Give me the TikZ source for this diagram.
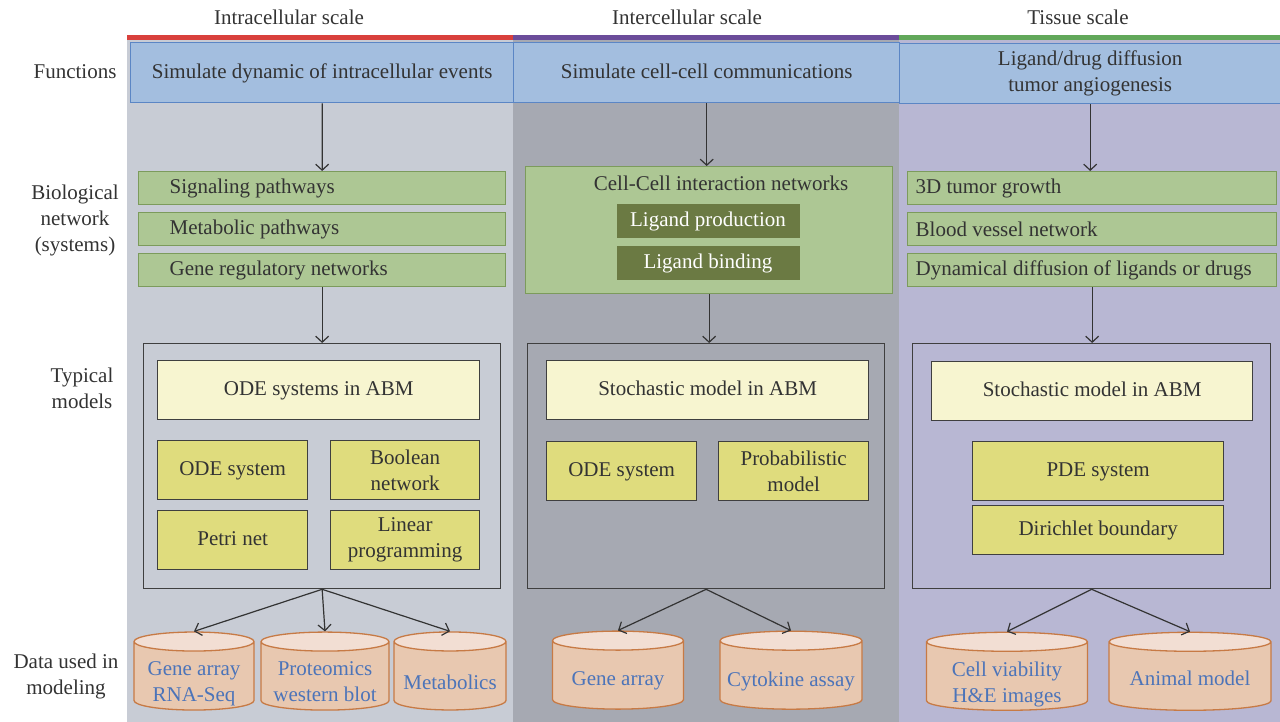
\documentclass[tikz,border=0pt]{standalone}
\usepackage{fontspec}
\setmainfont{Liberation Serif}
\usetikzlibrary{shapes.geometric, arrows.meta, positioning}
\definecolor{funcblue}{HTML}{A3BEDF}
\definecolor{funcedge}{HTML}{5B86C5}
\definecolor{bgintra}{HTML}{C8CCD5}
\definecolor{bginter}{HTML}{A6A9B2}
\definecolor{bgtissue}{HTML}{B8B7D3}
\definecolor{barred}{HTML}{D9403C}
\definecolor{barpurple}{HTML}{6B4C9A}
\definecolor{bargreen}{HTML}{62A85A}
\definecolor{netgreen}{HTML}{ADC794}
\definecolor{netedge}{HTML}{7C9B5C}
\definecolor{liggreen}{HTML}{6B7A43}
\definecolor{abmfill}{HTML}{F7F5D0}
\definecolor{modfill}{HTML}{DFDC7D}
\definecolor{boxedge}{HTML}{3F3F3F}
\definecolor{cylbody}{HTML}{E8C8B0}
\definecolor{cyltop}{HTML}{F2DED3}
\definecolor{cyledge}{HTML}{C77A45}
\definecolor{cyltext}{HTML}{4C74B9}
\definecolor{txtgray}{HTML}{333333}

\begin{document}
\begin{tikzpicture}
[x=1pt, y=-1pt,
every node/.style={font=\fontsize{21}{26}\selectfont, text=txtgray},
label/.style={align=center},
oneline/.style={text height=14pt, text depth=3pt},
func/.style={rectangle, draw=funcedge, line width=1.4pt, fill=funcblue, minimum height=60, anchor=north west, align=center},
net/.style={rectangle, draw=netedge, line width=1.3pt, fill=netgreen, minimum height=33, anchor=north west, align=flush left},
lig/.style={rectangle, fill=liggreen, text=white, minimum width=183, minimum height=34},
outer/.style={rectangle, draw=boxedge, line width=1.3pt, anchor=north west},
abm/.style={rectangle, draw=boxedge, line width=1.3pt, fill=abmfill, minimum width=322, minimum height=59, anchor=north west, oneline},
model/.style={rectangle, draw=boxedge, line width=1.3pt, fill=modfill, minimum height=59, anchor=north west, align=center, inner sep=2pt},
cyl/.style={cylinder, shape border rotate=90, inner sep=5pt, aspect=1.9, draw=cyledge, line width=1.3pt, cylinder uses custom fill, cylinder body fill=cylbody, cylinder end fill=cyltop, minimum height=78},
cyltxt/.style={text=cyltext, align=center},
conn/.style={-{Straight Barb[length=6pt, width=13pt]}, draw=txtgray, line width=1.2pt}]

\useasboundingbox (0,0) rectangle (1280,722);
% columns
\fill[bgintra] (127,40) rectangle (513,722);
\fill[bginter] (513,40) rectangle (899,722);
\fill[bgtissue] (899,40) rectangle (1280,722);
\fill[barred] (127,35) rectangle (513,40);
\fill[barpurple] (513,35) rectangle (899,40);
\fill[bargreen] (899,35) rectangle (1280,40);

\node (hIntra) at (289,17) {Intracellular scale};
\node (hInter) at (687,17) {Intercellular scale};
\node (hTissue) at (1078,17) {Tissue scale};

\node[label] (lFunc) at (75,72) {Functions};
\node[label] (lNet) at (75,220) {Biological\\network\\(systems)};
\node[label] (lModel) at (82,388) {Typical\\models};
\node[label] (lData) at (66,676) {Data used in\\modeling};

% functions
\node[func, oneline, minimum width=383] (fIntra) at (130,42) {Simulate dynamic of intracellular events};
\node[func, oneline, minimum width=386] (fInter) at (513,42) {Simulate cell-cell communications};
\node[func, minimum width=381] (fTissue) at (899,43) {Ligand/drug diffusion\\tumor angiogenesis};

% biological networks
\node[net, inner xsep=31, text width=305] (sigPath) at (138,171) {Signaling pathways};
\node[net, inner xsep=31, text width=305] (metPath) at (138,212) {Metabolic pathways};
\node[net, inner xsep=31, text width=305] (geneNet) at (138,253) {Gene regulatory networks};
\node[net, minimum width=367, minimum height=127] (cellNet) at (525,166) {};
\node (cellNetTxt) at (721,183) {Cell-Cell interaction networks};
\node[lig] (ligProd) at (708,221) {Ligand production};
\node[lig] (ligBind) at (708,263) {Ligand binding};
\node[net, inner xsep=8, text width=353] (tumGrow) at (907,171) {3D tumor growth};
\node[net, inner xsep=8, text width=353] (bloodNet) at (907,212) {Blood vessel network};
\node[net, inner xsep=8, text width=353] (diffNet) at (907,253) {Dynamical diffusion of ligands or drugs};

% models
\node[outer, minimum width=357, minimum height=245] (mIntra) at (143,343) {};
\node[abm] (odeAbm) at (157,360) {ODE systems in ABM};
\node[model, oneline, minimum width=150] (odeSys) at (157,440) {ODE system};
\node[model, minimum width=149] (boolNet) at (330,440) {Boolean\\network};
\node[model, oneline, minimum width=150] (petriNet) at (157,510) {Petri net};
\node[model, minimum width=149] (linProg) at (330,510) {Linear\\programming};

\node[outer, minimum width=357, minimum height=245] (mInter) at (527,343) {};
\node[abm] (stoInter) at (546,360) {Stochastic model in ABM};
\node[model, oneline, minimum width=150] (odeInter) at (546,441) {ODE system};
\node[model, minimum width=150] (probModel) at (718,441) {Probabilistic\\model};

\node[outer, minimum width=358, minimum height=245] (mTissue) at (912,343) {};
\node[abm, minimum width=321] (stoTissue) at (931,361) {Stochastic model in ABM};
\node[model, oneline, minimum width=251] (pdeSys) at (972,441) {PDE system};
\node[model, oneline, minimum width=251, minimum height=49] (dirBound) at (972,505) {Dirichlet boundary};

% data
\node[cyl, minimum width=120] (geneArr) at (194,678) {};
\node[cyl, minimum width=128] (proteo) at (325,678) {};
\node[cyl, minimum width=112] (metab) at (450,678) {};
\node[cyl, minimum width=131] (geneArr2) at (618,677) {};
\node[cyl, minimum width=142] (cytok) at (791,677) {};
\node[cyl, minimum width=161] (cellVia) at (1007,678) {};
\node[cyl, minimum width=162] (animal) at (1190,678) {};
\node[cyltxt] (geneArrTxt) at ([yshift=-6pt]geneArr.center) {Gene array\\RNA-Seq};
\node[cyltxt] (proteoTxt) at ([yshift=-4pt]proteo.center) {Proteomics\\western blot};
\node[cyltxt] (metabTxt) at ([yshift=-4pt]metab.center) {Metabolics};
\node[cyltxt] (geneArr2Txt) at ([yshift=-4pt]geneArr2.center) {Gene array};
\node[cyltxt] (cytokTxt) at ([yshift=-4pt]cytok.center) {Cytokine assay};
\node[cyltxt] (cellViaTxt) at ([yshift=-6pt]cellVia.center) {Cell viability\\H\&E images};
\node[cyltxt] (animalTxt) at (animal.center) {Animal model};

% connectors
\draw[conn] (fIntra.south) -- (sigPath.north);
\draw[conn] (geneNet.south) -- (mIntra.north);
\draw[conn] (fInter.south) -- (fInter.south |- cellNet.north);
\draw[conn] (cellNet.south) -- (cellNet.south |- mInter.north);
\draw[conn] (fTissue.south) -- (fTissue.south |- tumGrow.north);
\draw[conn] (diffNet.south) -- (diffNet.south |- mTissue.north);
\foreach \db in {geneArr, proteo, metab}
  \draw[conn] (mIntra.south) -- (\db.north);
\foreach \db in {geneArr2, cytok}
  \draw[conn] (mInter.south) -- (\db.north);
\foreach \db in {cellVia, animal}
  \draw[conn] (mTissue.south) -- (\db.north);
\end{tikzpicture}
\end{document}
